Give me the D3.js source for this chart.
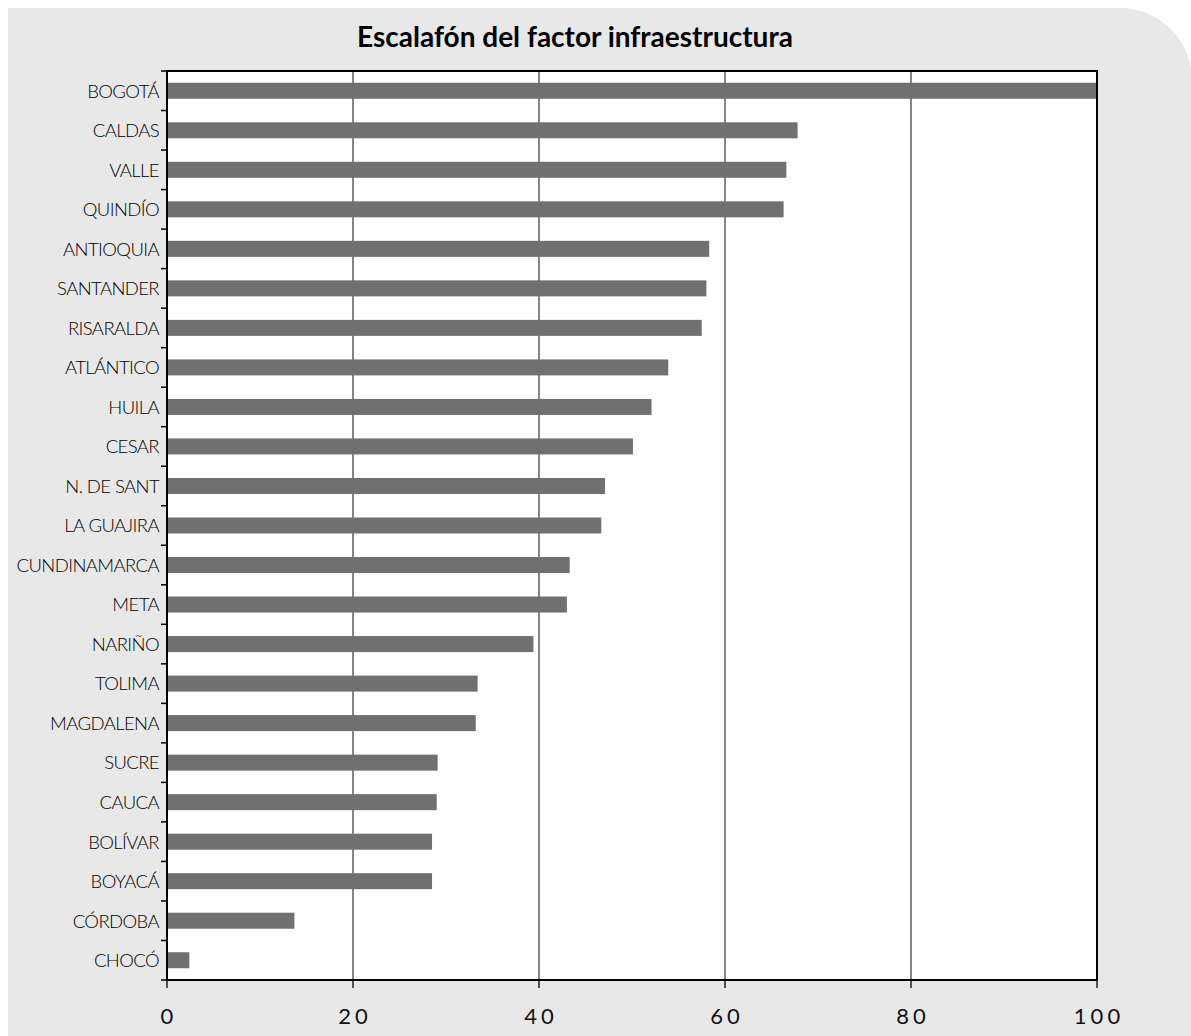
<!DOCTYPE html>
<html><head><meta charset="utf-8">
<script src="https://cdn.jsdelivr.net/npm/d3@7"></script>
<style>
html,body{margin:0;padding:0;background:#fff;}
svg{display:block;}
</style></head>
<body>
<svg id="chart" width="1191" height="1036"></svg>
<script>
const title = "Escalafón del factor infraestructura";
const categories = ["BOGOTÁ","CALDAS","VALLE","QUINDÍO","ANTIOQUIA","SANTANDER","RISARALDA","ATLÁNTICO","HUILA","CESAR","N. DE SANT","LA GUAJIRA","CUNDINAMARCA","META","NARIÑO","TOLIMA","MAGDALENA","SUCRE","CAUCA","BOLÍVAR","BOYACÁ","CÓRDOBA","CHOCÓ"];
const values = [100,67.8,66.6,66.3,58.3,58.0,57.5,53.9,52.1,50.1,47.1,46.7,43.3,43.0,39.4,33.4,33.2,29.1,29.0,28.5,28.5,13.7,2.4];
const xTicks = [0,20,40,60,80,100];

const svg = d3.select("#chart");
const W = 1191, H = 1036;
const m = {left:167, top:71, right:1097, bottom:980};

// background panel with rounded top-right corner
const r = 72;
svg.append("path")
  .attr("d", `M8,1036 L8,10 Q8,8 10,8 L${W+1-r},8 A${r},${r} 0 0 1 ${W+1},${8+r} L${W+1},1036 Z`)
  .attr("fill","#e8e8e8");

const x = d3.scaleLinear().domain([0,100]).range([m.left, m.right]);
const y = d3.scaleBand().domain(categories).range([m.top, m.bottom]).paddingInner(0.595).paddingOuter(0.2975);
const yb = d3.scaleBand().domain(categories).range([m.top, m.bottom]);

// plot area
svg.append("rect").attr("x",m.left).attr("y",m.top)
  .attr("width",m.right-m.left).attr("height",m.bottom-m.top).attr("fill","#fff");

// gridlines
svg.append("g").selectAll("line").data(xTicks.filter(d=>d>0 && d<100)).join("line")
  .attr("x1",d=>x(d)).attr("x2",d=>x(d)).attr("y1",m.top).attr("y2",m.bottom)
  .attr("stroke","#444").attr("stroke-width",1.3);

// bars
svg.append("g").selectAll("rect").data(categories).join("rect")
  .attr("x",x(0)).attr("y",d=>y(d))
  .attr("width",(d,i)=>x(values[i])-x(0)).attr("height",y.bandwidth())
  .attr("fill","#707070");

// frame
svg.append("rect").attr("x",m.left).attr("y",m.top)
  .attr("width",m.right-m.left).attr("height",m.bottom-m.top)
  .attr("fill","none").attr("stroke","#000").attr("stroke-width",2);

// y ticks at band boundaries
const bounds = categories.map(c=>yb(c)).concat([m.bottom]);
svg.append("g").selectAll("line").data(bounds).join("line")
  .attr("x1",m.left-6).attr("x2",m.left).attr("y1",d=>d).attr("y2",d=>d)
  .attr("stroke","#000").attr("stroke-width",1.5);

// y labels
svg.append("g").selectAll("text").data(categories).join("text")
  .attr("x",m.left-8).attr("y",d=>yb(d)+yb.bandwidth()/2)
  .attr("dy","0.37em").attr("text-anchor","end")
  .attr("font-family","Lato, sans-serif").attr("font-weight",300).attr("font-size",18.5)
  .attr("letter-spacing","-0.6px")
  .attr("fill","#000").text(d=>d);

// x axis ticks & labels
const xa = svg.append("g");
xa.selectAll("line").data(xTicks).join("line")
  .attr("x1",d=>x(d)).attr("x2",d=>x(d)).attr("y1",m.bottom).attr("y2",m.bottom+8)
  .attr("stroke","#000").attr("stroke-width",1.3);
xa.selectAll("text").data(xTicks).join("text")
  .attr("x",d=>x(d)+2).attr("y",1024)
  .attr("text-anchor","middle")
  .attr("font-family","Lato, sans-serif").attr("font-size",22)
  .attr("letter-spacing","4px")
  .attr("fill","#111").text(d=>d);

// title
svg.append("text").attr("x",575).attr("y",47).attr("text-anchor","middle")
  .attr("font-family","Lato, sans-serif").attr("font-weight","bold").attr("font-size",28)
  .attr("fill","#000").text(title);
</script>
</body></html>
